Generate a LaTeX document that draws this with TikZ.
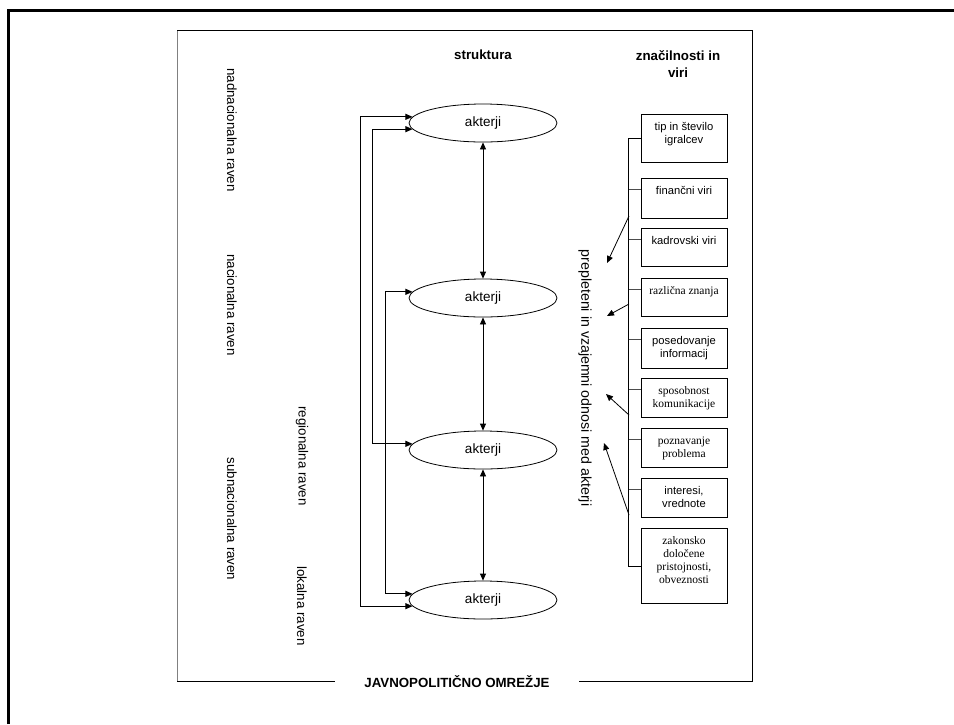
\documentclass[tikz,border=0pt]{standalone}
\usepackage{fontspec}
\usepackage{tikz}
\usetikzlibrary{shapes.geometric,arrows.meta}
\newfontfamily\arialfont{Liberation Sans}
\newfontfamily\timesfont{Liberation Serif}
\newcommand{\celltext}[2]{\parbox[t][#1][t]{84pt}{\centering\strut #2}}

\begin{document}
\begin{tikzpicture}[x=1pt,y=-1pt,
    actor_node/.style={ellipse,draw,line width=0.8pt,minimum width=148pt,minimum height=38pt,inner sep=0pt,font=\arialfont\fontsize{13.5}{16}\selectfont},
    box_node/.style={draw,line width=0.8pt,anchor=north,minimum width=86pt,inner xsep=0pt,inner ysep=7pt},
    sans_txt/.style={font=\arialfont\fontsize{11.2}{13}\selectfont},
    serif_txt/.style={font=\timesfont\fontsize{11.5}{13}\selectfont},
    level_txt/.style={rotate=-90,inner sep=0pt,font=\arialfont\fontsize{13.3}{16}\selectfont},
    head_txt/.style={align=center,font=\arialfont\bfseries\fontsize{13.3}{17}\selectfont},
    arr/.style={-{Triangle[length=7pt,width=6pt]},line width=0.8pt},
    darr/.style={{Triangle[length=7pt,width=6pt]}-{Triangle[length=7pt,width=6pt]},line width=0.8pt}]

    \useasboundingbox (0,0) rectangle (954,724);
    \draw[line width=3pt] (8.5,724) -- (8.5,10.5) -- (954,10.5);

    \coordinate (fr_tl) at (177,30);
    \coordinate (fr_tr) at (752,30);
    \coordinate (fr_bl) at (177,681);
    \coordinate (fr_br) at (752,681);
    \node[head_txt,inner xsep=29pt] (net) at (457,682) {JAVNOPOLITIČNO OMREŽJE};
    \draw[gray,line width=1pt] (fr_tl) -- (fr_bl);
    \draw[line width=0.8pt] (fr_bl) -- (fr_bl -| net.west);
    \draw[line width=0.8pt] (fr_tl) -- (fr_tr) -- (fr_br) -- (fr_br -| net.east);

    \node[head_txt] (h_str) at (483,55) {struktura};
    \node[head_txt] (h_src) at (678,64) {značilnosti in\\viri};

    \node[level_txt] (lvl1) at (232,130) {nadnacionalna raven};
    \node[level_txt] (lvl2) at (232,305) {nacionalna raven};
    \node[level_txt] (lvl3) at (232,519) {subnacionalna raven};
    \node[level_txt] (lvl4) at (302,456) {regionalna raven};
    \node[level_txt] (lvl5) at (302,606) {lokalna raven};
    \node[level_txt,font=\arialfont\fontsize{14.2}{16}\selectfont] (rel) at (585,378) {prepleteni in vzajemni odnosi med akterji};

    \node[actor_node] (act1) at (483,123) {akterji};
    \node[actor_node] (act2) at (483,298) {akterji};
    \node[actor_node] (act3) at (483,450) {akterji};
    \node[actor_node] (act4) at (483,600) {akterji};
    \draw[darr] (act1) -- (act2);
    \draw[darr] (act2) -- (act3);
    \draw[darr] (act3) -- (act4);
    \draw[darr] (act1.175) -- ++(-52,0) |- (act4.185);
    \draw[darr] (act1.185) -- ++(-40,0) |- (act3.175);
    \draw[darr] (act2.175) -- ++(-27,0) |- (act4.175);

    \node[box_node,sans_txt] (b1) at (684,114) {\celltext{34pt}{tip in število\\igralcev}};
    \node[box_node,sans_txt] (b2) at (684,178) {\celltext{26pt}{finančni viri}};
    \node[box_node,sans_txt] (b3) at (684,228) {\celltext{24pt}{kadrovski viri}};
    \node[box_node,serif_txt] (b4) at (684,278) {\celltext{24pt}{različna znanja}};
    \node[box_node,sans_txt] (b5) at (684,328) {\celltext{26pt}{posedovanje\\informacij}};
    \node[box_node,serif_txt] (b6) at (684,378) {\celltext{25pt}{sposobnost\\komunikacije}};
    \node[box_node,serif_txt] (b7) at (684,428) {\celltext{25pt}{poznavanje\\problema}};
    \node[box_node,sans_txt] (b8) at (684,478) {\celltext{25pt}{interesi,\\vrednote}};
    \node[box_node,serif_txt] (b9) at (684,528) {\celltext{61pt}{zakonsko\\določene\\pristojnosti,\\obveznosti}};

    \draw[line width=0.8pt] (b1.west) -- ++(-12,0) |- (b9.west);
    \foreach \b in {b2,b3,b4,b5,b6,b7,b8}
        \draw[black!70,line width=0.8pt] ([yshift=-11pt]\b.north west) -- ++(-12,0);

    \foreach \i/\sy/\tx/\ty in {1/216/607/263, 2/304/607/316, 3/415/606/394, 4/515/604/443} {
        \coordinate (src\i) at (629,\sy);
        \coordinate (tip\i) at (\tx,\ty);
        \draw[arr] (src\i) -- (tip\i);
    }
\end{tikzpicture}
\end{document}
